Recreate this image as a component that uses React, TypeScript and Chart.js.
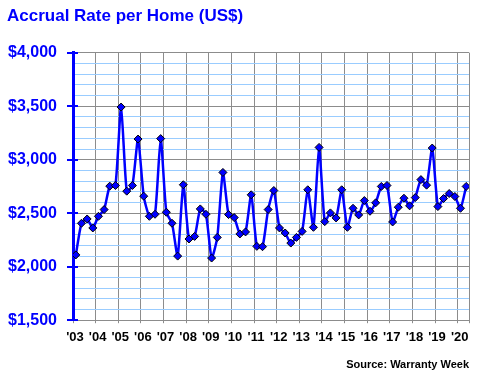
import React, { useEffect, useRef } from "react";
import { Chart, registerables } from "chart.js";

Chart.register(...registerables);

const yearLabels = ["'03", "'04", "'05", "'06", "'07", "'08", "'09", "'10", "'11", "'12", "'13", "'14", "'15", "'16", "'17", "'18", "'19", "'20"];

// quarterly accrual per home, 2003 Q1 .. 2020 Q2
const accrual = [
  2110, 2406, 2446, 2362, 2471, 2534, 2753, 2759,
  3492, 2706, 2759, 3193, 2659, 2471, 2490, 3197,
  2509, 2406, 2099, 2766, 2259, 2283, 2540, 2490,
  2081, 2274, 2881, 2487, 2459, 2306, 2325, 2672,
  2190, 2187, 2534, 2712, 2362, 2315, 2221, 2274,
  2330, 2719, 2368, 3115, 2421, 2503, 2456, 2719,
  2368, 2546, 2484, 2618, 2518, 2597, 2750, 2759,
  2418, 2556, 2640, 2569, 2646, 2814, 2762, 3109,
  2562, 2637, 2684, 2656, 2546, 2750,
];

const titleText = "Accrual Rate per Home (US$)";
const sourceText = "Source: Warranty Week";

const FONT = "'Liberation Sans', Arial, sans-serif";
const BLUE = "#0000ff";
const GRAY = "#8c8c8c";
const LIGHT = "#99ccff";

export default function App() {
  const ref = useRef<HTMLCanvasElement | null>(null);
  useEffect(() => {
    if (!ref.current) return;
    const crossTicks = {
      id: "crossTicks",
      beforeDatasetsDraw(chart: any) {
        const y = chart.scales.y;
        const left = chart.chartArea.left;
        const ctx = chart.ctx;
        ctx.save();
        ctx.strokeStyle = BLUE;
        ctx.lineWidth = 2;
        y.ticks.forEach((t: any) => {
          if (t.value % 500 !== 0) return;
          const py = Math.round(y.getPixelForValue(t.value));
          ctx.beginPath();
          ctx.moveTo(left - 6, py);
          ctx.lineTo(left + 5, py);
          ctx.stroke();
        });
        ctx.restore();
      },
    };
    const chart = new Chart(ref.current, {
      type: "line",
      data: {
        datasets: [
          {
            data: accrual.map((v, i) => ({ x: i + 0.5, y: v })),
            borderColor: BLUE,
            borderWidth: 2.5,
            tension: 0.2,
            pointStyle: "rectRot",
            pointRadius: 4,
            pointBackgroundColor: BLUE,
            pointBorderColor: "#000",
            pointBorderWidth: 1,
          },
        ],
      },
      options: {
        animation: false,
        responsive: false,
        layout: { padding: { left: 7, right: 11, top: 0, bottom: 0 } },
        plugins: {
          legend: { display: false },
          tooltip: { enabled: false },
          title: {
            display: true,
            text: titleText,
            align: "start",
            color: BLUE,
            font: { family: FONT, size: 17, weight: "bold" },
            padding: { top: 6.4, bottom: 25.9 },
          },
          subtitle: {
            display: true,
            text: sourceText,
            position: "bottom",
            align: "end",
            color: "#000",
            font: { family: FONT, size: 11, weight: "bold" },
            padding: { top: 8, bottom: 8 },
          },
        },
        scales: {
          x: {
            type: "linear",
            min: 0,
            max: 70,
            afterBuildTicks: (scale: any) => {
              const t = yearLabels.map((_, i) => ({ value: i * 4 }));
              t.push({ value: 70 });
              scale.ticks = t;
            },
            grid: { color: GRAY, lineWidth: 1, tickLength: 3, tickColor: GRAY },
            border: { color: GRAY, width: 1 },
            ticks: {
              autoSkip: false,
              maxRotation: 0,
              padding: 6,
              labelOffset: 2,
              color: "#000",
              font: { family: FONT, size: 13, weight: "bold" },
              callback: (v: any) => yearLabels[v / 4] ?? "",
            },
          },
          y: {
            min: 1500,
            max: 4000,
            afterFit: (scale: any) => {
              scale.width = 66;
            },
            grid: {
              color: (c: any) => (c.tick && c.tick.value % 500 === 0 ? GRAY : LIGHT),
              lineWidth: 1,
              tickLength: 6,
              tickColor: "rgba(0,0,0,0)",
            },
            border: { color: BLUE, width: 3 },
            ticks: {
              stepSize: 100,
              autoSkip: false,
              padding: 10,
              color: BLUE,
              font: { family: FONT, size: 16, weight: "bold" },
              callback: (v: any) => (v % 500 === 0 ? "$" + Number(v).toLocaleString("en-US") : ""),
            },
          },
        },
      },
      plugins: [crossTicks],
    });
    return () => chart.destroy();
  }, []);
  return (
    <div style={{ position: "absolute", left: 0, top: 0, width: 480, height: 380, background: "#fff" }}>
      <canvas ref={ref} width={480} height={380} style={{ width: 480, height: 380 }} />
    </div>
  );
}
